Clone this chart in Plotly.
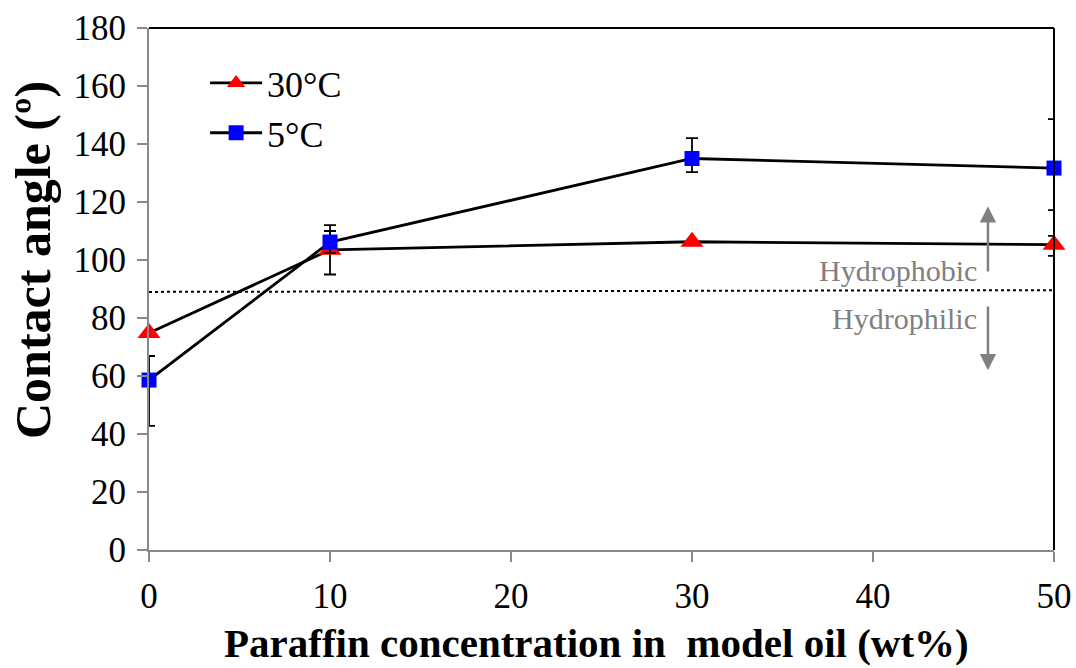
import plotly.graph_objects as go

# ---- data ----
x_conc = [0, 10, 30, 50]
angle_30C = [74.8, 103.5, 106.3, 105.3]
err_30C_plus = [0, 8.5, 0.5, 3.0]
err_30C_minus = [0, 8.5, 0.5, 3.9]
angle_5C = [58.6, 106.2, 135.0, 131.7]
err_5C_plus = [8.3, 3.8, 7.0, 16.9]
err_5C_minus = [15.8, 3.8, 4.7, 14.5]
threshold_x = [0, 50]
threshold_y = [89.0, 89.6]
x_ticks = [0, 10, 20, 30, 40, 50]
y_ticks = [0, 20, 40, 60, 80, 100, 120, 140, 160, 180]

FONT = "Liberation Serif, Times New Roman, serif"
GRAY = "#898989"

fig = go.Figure()

fig.add_trace(go.Scatter(
    x=threshold_x, y=threshold_y, mode="lines",
    line=dict(color="black", width=2, dash="dot"),
    showlegend=False, hoverinfo="skip"))

fig.add_trace(go.Scatter(
    x=x_conc, y=angle_30C, name="30°C", mode="lines+markers",
    line=dict(color="black", width=2.8),
    marker=dict(symbol="triangle-up", size=20, color="#ff0000"),
    error_y=dict(type="data", symmetric=False, array=err_30C_plus,
                 arrayminus=err_30C_minus, color="black", thickness=1.8, width=6),
    cliponaxis=False))

fig.add_trace(go.Scatter(
    x=x_conc, y=angle_5C, name="5°C", mode="lines+markers",
    line=dict(color="black", width=2.8),
    marker=dict(symbol="square", size=15, color="#0000ff"),
    error_y=dict(type="data", symmetric=False, array=err_5C_plus,
                 arrayminus=err_5C_minus, color="black", thickness=1.8, width=6),
    cliponaxis=False))

fig.update_layout(
    width=1076, height=668,
    margin=dict(l=149, r=22, t=28, b=118, autoexpand=False),
    plot_bgcolor="white", paper_bgcolor="white",
    font=dict(family=FONT, size=35, color="black"),
    legend=dict(x=0.062, y=0.952, xanchor="left", yanchor="top",
                bgcolor="rgba(0,0,0,0)", font=dict(family=FONT, size=36),
                itemwidth=52, tracegroupgap=0),
)

fig.update_xaxes(range=[0, 50], tickvals=x_ticks, showgrid=False, zeroline=False,
                 showline=True, linecolor=GRAY, linewidth=2, automargin=False,
                 ticks="outside", ticklen=10, tickcolor=GRAY, tickwidth=2,
                 tickfont=dict(family=FONT, size=35), ticklabelstandoff=4)
fig.update_yaxes(range=[0, 180], tickvals=y_ticks, showgrid=False, zeroline=False,
                 showline=True, linecolor=GRAY, linewidth=2, automargin=False,
                 ticks="outside", ticklen=10, tickcolor=GRAY, tickwidth=2,
                 tickfont=dict(family=FONT, size=35), ticklabelstandoff=4)

# top and right frame lines (black)
fig.add_shape(type="line", xref="paper", yref="paper", x0=0, x1=1, y0=1, y1=1,
              line=dict(color="black", width=2))
fig.add_shape(type="line", xref="paper", yref="paper", x0=1, x1=1, y0=0, y1=1,
              line=dict(color="black", width=2))

# arrows
fig.add_annotation(x=46.35, y=118.5, ax=46.35, ay=95.5, xref="x", yref="y",
                   axref="x", ayref="y", showarrow=True, arrowhead=2,
                   arrowsize=1.3, arrowwidth=2.5, arrowcolor="#808080", text="")
fig.add_annotation(x=46.35, y=62, ax=46.35, ay=84.5, xref="x", yref="y",
                   axref="x", ayref="y", showarrow=True, arrowhead=2,
                   arrowsize=1.3, arrowwidth=2.5, arrowcolor="#808080", text="")
fig.add_annotation(x=45.85, y=96.5, xref="x", yref="y", text="Hydrophobic",
                   showarrow=False, xanchor="right", yanchor="middle",
                   font=dict(family=FONT, size=30, color="#808080"))
fig.add_annotation(x=45.85, y=80.0, xref="x", yref="y", text="Hydrophilic",
                   showarrow=False, xanchor="right", yanchor="middle",
                   font=dict(family=FONT, size=30, color="#808080"))

# axis titles
fig.add_annotation(x=(33 - 149) / 905, y=(550 - 260) / 522, xref="paper", yref="paper",
                   text="<b>Contact angle (º)</b>", textangle=-90, showarrow=False,
                   xanchor="center", yanchor="middle",
                   font=dict(family=FONT, size=50, color="black"))
fig.add_annotation(x=(596 - 149) / 905, y=(550 - 643) / 522, xref="paper", yref="paper",
                   text="<b>Paraffin concentration in\u00a0 model oil (wt%)</b>",
                   showarrow=False, xanchor="center", yanchor="middle",
                   font=dict(family=FONT, size=41, color="black"))

fig.write_html("out.html")
